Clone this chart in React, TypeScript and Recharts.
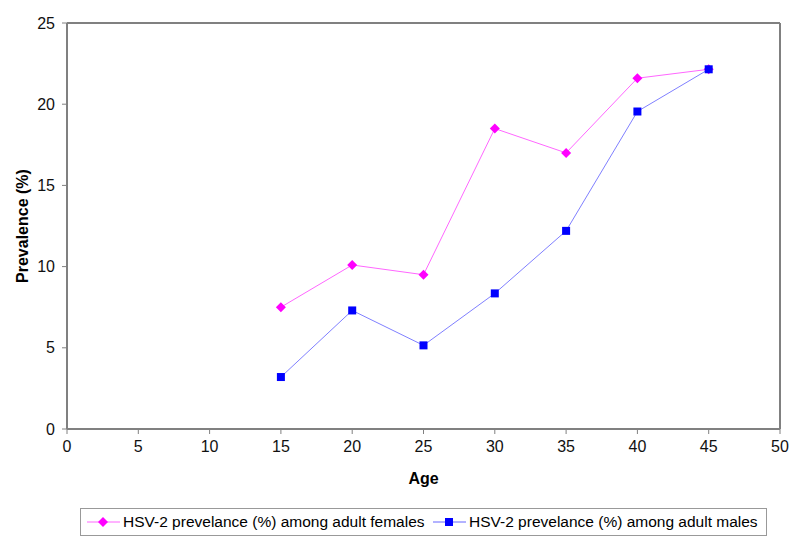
import { LineChart, Line, XAxis, YAxis, ReferenceLine, Label } from 'recharts';

document.body.style.margin = '0';

// Ages on the x axis
const AGES = [15, 20, 25, 30, 35, 40, 45];
// HSV-2 prevalence (%)
const FEMALES = [7.5, 10.1, 9.5, 18.5, 17.0, 21.6, 22.15];
const MALES = [3.2, 7.3, 5.15, 8.35, 12.2, 19.55, 22.15];

const X_TICKS = [0, 5, 10, 15, 20, 25, 30, 35, 40, 45, 50];
const Y_TICKS = [0, 5, 10, 15, 20, 25];

const FEMALE_LABEL = 'HSV-2 prevelance (%) among adult females';
const MALE_LABEL = 'HSV-2 prevelance (%) among adult males';

const FEMALE_COLOR = '#FF00FF';
const MALE_COLOR = '#0000FF';
const AXIS_COLOR = '#808080';
const FONT = "'Liberation Sans', Arial, sans-serif";

const data = AGES.map((age, i) => ({ age, females: FEMALES[i], males: MALES[i] }));

// eslint-disable-next-line @typescript-eslint/no-explicit-any
function Diamond(props: any) {
  const { cx, cy } = props;
  if (cx == null || cy == null) return null;
  const r = 5;
  return (
    <polygon
      points={`${cx},${cy - r} ${cx + r},${cy} ${cx},${cy + r} ${cx - r},${cy}`}
      fill={FEMALE_COLOR}
    />
  );
}

// eslint-disable-next-line @typescript-eslint/no-explicit-any
function Square(props: any) {
  const { cx, cy } = props;
  if (cx == null || cy == null) return null;
  const s = 8;
  return <rect x={cx - s / 2} y={cy - s / 2} width={s} height={s} fill={MALE_COLOR} />;
}

function LegendItem({
  color,
  label,
  square,
  left,
}: {
  color: string;
  label: string;
  square?: boolean;
  left: number;
}) {
  return (
    <div
      style={{
        position: 'absolute',
        left,
        top: 0,
        height: '100%',
        display: 'flex',
        alignItems: 'center',
        gap: 3,
        whiteSpace: 'nowrap',
      }}
    >
      <svg width={33} height={12} style={{ flexShrink: 0 }}>
        <line x1={0} y1={6} x2={33} y2={6} stroke={color} strokeWidth={1} strokeOpacity={0.6} />
        {square ? (
          <rect x={12} y={2} width={8} height={8} fill={color} />
        ) : (
          <polygon points="16,1 21,6 16,11 11,6" fill={color} />
        )}
      </svg>
      <span>{label}</span>
    </div>
  );
}

export default function App() {
  return (
    <div style={{ position: 'relative', width: 800, height: 548, background: '#fff' }}>
      <LineChart
        width={800}
        height={548}
        data={data}
        margin={{ top: 23, right: 20, bottom: 89, left: 27 }}
      >
        <XAxis
          dataKey="age"
          type="number"
          domain={[0, 50]}
          ticks={X_TICKS}
          interval={0}
          height={30}
          axisLine={{ stroke: AXIS_COLOR, strokeWidth: 2 }}
          tickLine={{ stroke: AXIS_COLOR }}
          tickSize={5}
          tickMargin={7}
          tick={{ fill: '#111', fontSize: 16, fontFamily: FONT }}
        >
          <Label
            value="Age"
            position="insideBottom"
            offset={-25}
            style={{ fill: '#000', fontSize: 16, fontWeight: 'bold', fontFamily: FONT }}
          />
        </XAxis>
        <YAxis
          type="number"
          domain={[0, 25]}
          ticks={Y_TICKS}
          interval={0}
          width={40}
          axisLine={{ stroke: AXIS_COLOR, strokeWidth: 2 }}
          tickLine={{ stroke: AXIS_COLOR }}
          tickSize={5}
          tickMargin={7}
          tick={{ fill: '#111', fontSize: 16, fontFamily: FONT }}
        >
          <Label
            value="Prevalence (%)"
            angle={-90}
            position="insideLeft"
            offset={-5}
            style={{ fill: '#000', fontSize: 16, fontWeight: 'bold', fontFamily: FONT, textAnchor: 'middle' }}
          />
        </YAxis>
        <ReferenceLine y={25} stroke={AXIS_COLOR} strokeWidth={2} />
        <ReferenceLine x={50} stroke={AXIS_COLOR} strokeWidth={2} />
        <Line
          dataKey="females"
          stroke={FEMALE_COLOR}
          strokeWidth={1}
          strokeOpacity={0.6}
          dot={<Diamond />}
          activeDot={false}
          isAnimationActive={false}
        />
        <Line
          dataKey="males"
          stroke={MALE_COLOR}
          strokeWidth={1}
          strokeOpacity={0.5}
          dot={<Square />}
          activeDot={false}
          isAnimationActive={false}
        />
      </LineChart>
      <div
        style={{
          position: 'absolute',
          left: 80,
          top: 508,
          width: 687,
          height: 28,
          boxSizing: 'border-box',
          border: '1px solid #999',
          fontFamily: FONT,
          fontSize: 15.5,
          color: '#000',
        }}
      >
        <LegendItem color={FEMALE_COLOR} label={FEMALE_LABEL} left={6} />
        <LegendItem color={MALE_COLOR} label={MALE_LABEL} square left={352} />
      </div>
    </div>
  );
}
